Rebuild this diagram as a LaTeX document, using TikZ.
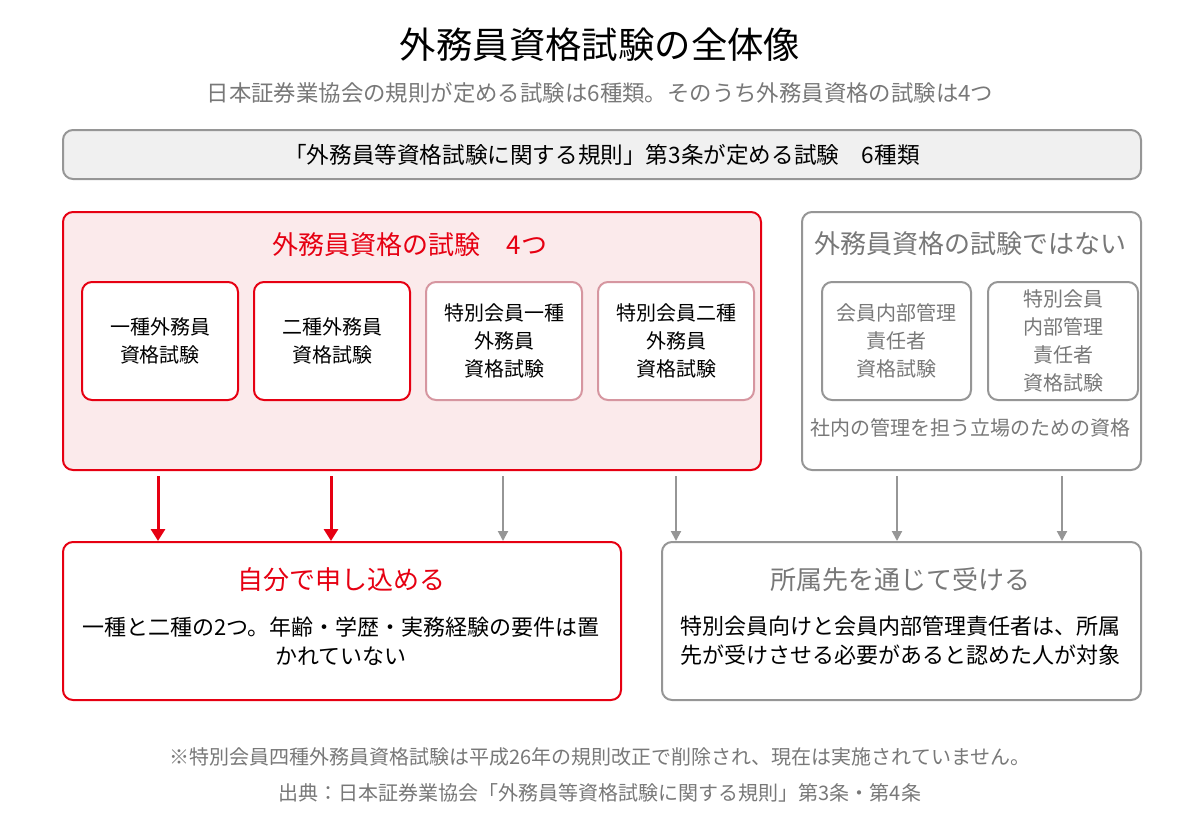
\documentclass[tikz,border=0pt]{standalone}
\usepackage{fontspec}
\setmainfont{Noto Sans CJK JP}
\usetikzlibrary{arrows.meta,positioning}
\definecolor{exred}{RGB}{230,0,18}
\definecolor{expink}{RGB}{251,234,235}
\definecolor{exrose}{RGB}{214,150,160}
\definecolor{exgray}{RGB}{150,150,150}
\definecolor{extext}{RGB}{120,120,120}
\definecolor{exbar}{RGB}{240,240,240}
\tikzset{
  panel/.style={draw, rounded corners=5pt, line width=1pt, anchor=north west, inner sep=0pt},
  exam/.style={draw, rounded corners=5pt, line width=1pt, fill=white, anchor=north west, inner sep=0pt, minimum width=78pt, minimum height=59pt, align=center, font=\fontsize{10}{14}\selectfont},
  redarrow/.style={draw=exred, line width=1.5pt, -{Triangle[length=6pt,width=7pt]}},
  grayarrow/.style={draw=exgray, line width=1pt, -{Triangle[length=5pt,width=5pt]}},
}
\begin{document}
\begin{tikzpicture}[x=0.5pt,y=-0.5pt]
\useasboundingbox (0,0) rectangle (1200,820);
% title
\node[font=\fontsize{18.2}{22}\selectfont] (title) at (600,45) {外務員資格試験の全体像};
\node[font=\fontsize{11.2}{14}\selectfont, text=extext] (sub) at (600,93) {日本証券業協会の規則が定める試験は6種類。そのうち外務員資格の試験は4つ};
% bar
\node[panel, draw=exgray, fill=exbar, minimum width=539pt, minimum height=24.5pt, font=\fontsize{11.3}{12}\selectfont] (bar) at (62,129) {「外務員等資格試験に関する規則」第3条が定める試験\quad 6種類};
% red panel
\node[panel, draw=exred, fill=expink, minimum width=349pt, minimum height=129pt] (redbox) at (62,211) {};
\node[font=\fontsize{13}{16}\selectfont, text=exred] (redhead) at (410,245) {外務員資格の試験\quad 4つ};
\node[exam, draw=exred] (first) at (81,281) {一種外務員\\資格試験};
\node[exam, draw=exred] (second) at (253,281) {二種外務員\\資格試験};
\node[exam, draw=exrose] (spone) at (425,281) {特別会員一種\\外務員\\資格試験};
\node[exam, draw=exrose] (sptwo) at (597,281) {特別会員二種\\外務員\\資格試験};
% gray panel
\node[panel, draw=exgray, fill=white, minimum width=169.5pt, minimum height=129pt] (graybox) at (801,211) {};
\node[font=\fontsize{13}{16}\selectfont, text=extext] (grayhead) at (970,244) {外務員資格の試験ではない};
\node[exam, draw=exgray, text=extext, minimum width=74.5pt] (mgr) at (821,281) {会員内部管理\\責任者\\資格試験};
\node[exam, draw=exgray, text=extext, minimum width=75pt] (spmgr) at (987,281) {特別会員\\内部管理\\責任者\\資格試験};
\node[font=\fontsize{10}{12}\selectfont, text=extext] (graynote) at (970,428) {社内の管理を担う立場のための資格};
% bottom panels
\node[panel, draw=exred, fill=white, minimum width=279pt, minimum height=79pt] (self) at (62,541) {};
\node[font=\fontsize{13}{16}\selectfont, text=exred] (selfhead) at (341,580) {自分で申し込める};
\node[font=\fontsize{11}{14.5}\selectfont, align=center] (selftext) at (341,641) {一種と二種の2つ。年齢・学歴・実務経験の要件は置\\かれていない};
\node[panel, draw=exgray, fill=white, minimum width=239.5pt, minimum height=79pt] (firm) at (661,541) {};
\node[font=\fontsize{13}{16}\selectfont, text=extext] (firmhead) at (900,580) {所属先を通じて受ける};
\node[font=\fontsize{11}{14.5}\selectfont, align=center] (firmtext) at (900,641) {特別会員向けと会員内部管理責任者は、所属\\先が受けさせる必要があると認めた人が対象};
% arrows
\coordinate (a1) at (158,476);
\coordinate (a2) at (331,476);
\coordinate (a3) at (503,476);
\coordinate (a4) at (676,476);
\coordinate (a5) at (897,476);
\coordinate (a6) at (1062,476);
\draw[redarrow] (a1) -- (a1 |- self.north);
\draw[redarrow] (a2) -- (a2 |- self.north);
\draw[grayarrow] (a3) -- (a3 |- self.north);
\draw[grayarrow] (a4) -- (a4 |- firm.north);
\draw[grayarrow] (a5) -- (a5 |- firm.north);
\draw[grayarrow] (a6) -- (a6 |- firm.north);
% notes
\node[font=\fontsize{10}{11}\selectfont, text=extext] (note) at (600,757) {※特別会員四種外務員資格試験は平成26年の規則改正で削除され、現在は実施されていません。};
\node[font=\fontsize{10}{11}\selectfont, text=extext] (source) at (600,793) {出典：日本証券業協会「外務員等資格試験に関する規則」第3条・第4条};
\end{tikzpicture}
\end{document}
